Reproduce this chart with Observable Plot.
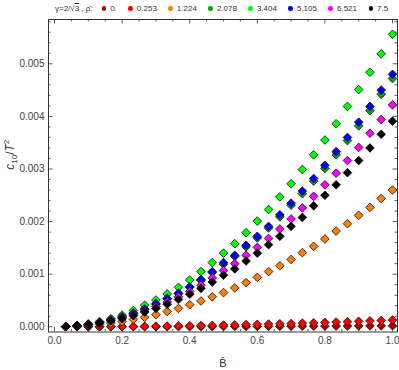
<!DOCTYPE html>
<html><head><meta charset="utf-8">
<script src="https://cdn.jsdelivr.net/npm/d3@7"></script>
<script src="https://cdn.jsdelivr.net/npm/@observablehq/plot@0.6"></script>
<style>
body{margin:0;background:#fff;font-family:"Liberation Sans",Arial,sans-serif;}
#wrap{width:399px;height:370px;overflow:hidden;}
#legend{height:17px;display:flex;align-items:center;font-size:8px;color:#333;padding-left:55px;box-sizing:border-box;white-space:nowrap;}
#legend .title{margin-right:9px;}
#legend .d{width:4.5px;height:4.5px;border-radius:50%;margin-right:4px;flex:none;}
#legend .l{margin-right:11.5px;}
.ov{text-decoration:overline;}
</style></head><body>
<div id="wrap"><div id="legend"><span class="title">γ=2/√<span class="ov">3</span> , ρ̄:</span></div><div id="chart"></div></div>
<script>
const rhoLabels = ["0.", "0.253", "1.224", "2.078", "3.404", "5.105", "6.521", "7.5"];
const colors = ["#aa0000", "#ff0000", "#ff8000", "#00aa00", "#00ff00", "#0000ff", "#ff00ff", "#000000"];
const Bbar = [0.0333, 0.0667, 0.1, 0.1333, 0.1667, 0.2, 0.2333, 0.2667, 0.3, 0.3333,
              0.3667, 0.4, 0.4333, 0.4667, 0.5, 0.5333, 0.5667, 0.6, 0.6333, 0.6667,
              0.7, 0.7333, 0.7667, 0.8, 0.8333, 0.8667, 0.9, 0.9333, 0.9667, 1.0];
const c_rho0 = [0, 0, 0, 0, 0, 0, 0.000001, 0.000001, 0.000002, 0.000002,
                0.000003, 0.000003, 0.000004, 0.000004, 0.000005, 0.000006, 0.000006, 0.000007, 0.000008, 0.000009,
                0.00001, 0.000011, 0.000012, 0.000013, 0.000014, 0.000015, 0.000016, 0.000017, 0.000019, 0.00002];
const c_rho0253 = [0.0000001, 0.0000006, 0.0000013, 0.0000023, 0.0000036, 0.000005, 0.000007, 0.000009, 0.000012, 0.000014,
                   0.000017, 0.000021, 0.000024, 0.000028, 0.000033, 0.000037, 0.000042, 0.000047, 0.000052, 0.000058,
                   0.000062, 0.00007, 0.000075, 0.000083, 0.00009, 0.000098, 0.000105, 0.000113, 0.00012, 0.00013];
const c_rho1224 = [0.000003, 0.000011, 0.000025, 0.000045, 0.00007, 0.0001, 0.00014, 0.00018, 0.00023, 0.00029,
                   0.00035, 0.00042, 0.00049, 0.00057, 0.00065, 0.00074, 0.00084, 0.00094, 0.00105, 0.00116,
                   0.00128, 0.00141, 0.00153, 0.00167, 0.00182, 0.00196, 0.00212, 0.00227, 0.00244, 0.0026];
const c_rho2078 = [0.000005, 0.00002, 0.000047, 0.000083, 0.00013, 0.000186, 0.000254, 0.000333, 0.00043, 0.00053,
                   0.00063, 0.00075, 0.00088, 0.00103, 0.00119, 0.00134, 0.00152, 0.00169, 0.00188, 0.00209,
                   0.00231, 0.00253, 0.00277, 0.00301, 0.00327, 0.00354, 0.00382, 0.00411, 0.00442, 0.00472];
const c_rho3404 = [0.000006, 0.000025, 0.000056, 0.0001, 0.000155, 0.000222, 0.00031, 0.00041, 0.00051, 0.000625,
                   0.00075, 0.00089, 0.00105, 0.00122, 0.0014, 0.00158, 0.00179, 0.00201, 0.00223, 0.00247,
                   0.00272, 0.00299, 0.00327, 0.00355, 0.00386, 0.00419, 0.00451, 0.00484, 0.00519, 0.00556];
const c_rho5105 = [0.000005, 0.000021, 0.000048, 0.000085, 0.000133, 0.00019, 0.00026, 0.00034, 0.00044, 0.00054,
                   0.00064, 0.00076, 0.0009, 0.00105, 0.00122, 0.00136, 0.00155, 0.00172, 0.00191, 0.00213,
                   0.00235, 0.00258, 0.00282, 0.00307, 0.00333, 0.0036, 0.00389, 0.00419, 0.0045, 0.0048];
const c_rho6521 = [0.000005, 0.000019, 0.000042, 0.000075, 0.00012, 0.00017, 0.00023, 0.0003, 0.00038, 0.00047,
                   0.00057, 0.00067, 0.00079, 0.00093, 0.00107, 0.0012, 0.00136, 0.00151, 0.00168, 0.00186,
                   0.00205, 0.00226, 0.00248, 0.0027, 0.00292, 0.00316, 0.00341, 0.00368, 0.00394, 0.00422];
const c_rho75 = [0.000005, 0.000018, 0.00004, 0.00007, 0.00011, 0.000155, 0.00021, 0.00028, 0.00035, 0.00043,
                 0.00052, 0.00062, 0.00073, 0.00085, 0.00098, 0.0011, 0.00125, 0.0014, 0.00156, 0.00172,
                 0.00191, 0.00208, 0.0023, 0.0025, 0.0027, 0.00293, 0.00316, 0.0034, 0.00366, 0.00391];
const xMajor = [0, 0.2, 0.4, 0.6, 0.8, 1.0];
const xMinor = [0.05, 0.1, 0.15, 0.25, 0.3, 0.35, 0.45, 0.5, 0.55, 0.65, 0.7, 0.75, 0.85, 0.9, 0.95];
const yMajor = [0, 0.001, 0.002, 0.003, 0.004, 0.005];
const yMinor = [0.0002, 0.0004, 0.0006, 0.0008, 0.0012, 0.0014, 0.0016, 0.0018, 0.0022, 0.0024, 0.0026, 0.0028,
                0.0032, 0.0034, 0.0036, 0.0038, 0.0042, 0.0044, 0.0046, 0.0048, 0.0052, 0.0054, 0.0056, 0.0058];

const series = [c_rho0, c_rho0253, c_rho1224, c_rho2078, c_rho3404, c_rho5105, c_rho6521, c_rho75];
const data = series.flatMap((vals, i) => vals.map((v, j) => ({B: Bbar[j], c: v, color: colors[i]})));

// legend
const leg = document.getElementById("legend");
rhoLabels.forEach((lab, i) => {
  const d = document.createElement("span"); d.className = "d"; d.style.background = colors[i];
  const t = document.createElement("span"); t.className = "l"; t.textContent = lab;
  leg.appendChild(d); leg.appendChild(t);
});

const W = 399, H = 353, mT = 2, mB = 38.5, mL = 48, mR = 2;
const fh = H - mT - mB, fw = W - mL - mR;
const maj = 4.5, mnr = 2.5;
const tickStyle = {stroke: "#333", strokeWidth: 0.8};

const chart = Plot.plot({
  width: W, height: H, marginTop: mT, marginBottom: mB, marginLeft: mL, marginRight: mR,
  style: {fontFamily: "Liberation Sans, Arial, sans-serif", background: "#fff"},
  x: {domain: [-0.0178, 1.0148], axis: null},
  y: {domain: [-0.0000989, 0.005842], axis: null},
  color: {type: "identity"},
  marks: [
    Plot.tickX(xMajor, {x: d => d, insetTop: fh - maj, ...tickStyle}),
    Plot.tickX(xMajor, {x: d => d, insetBottom: fh - maj, ...tickStyle}),
    Plot.tickX(xMinor, {x: d => d, insetTop: fh - mnr, ...tickStyle}),
    Plot.tickX(xMinor, {x: d => d, insetBottom: fh - mnr, ...tickStyle}),
    Plot.tickY(yMajor, {y: d => d, insetRight: fw - maj, ...tickStyle}),
    Plot.tickY(yMajor, {y: d => d, insetLeft: fw - maj, ...tickStyle}),
    Plot.tickY(yMinor, {y: d => d, insetRight: fw - mnr, ...tickStyle}),
    Plot.tickY(yMinor, {y: d => d, insetLeft: fw - mnr, ...tickStyle}),
    Plot.axisX({ticks: xMajor, tickSize: 0, tickPadding: 5, tickFormat: d3.format(".1f"), fontSize: 10, fill: "#444", label: null}),
    Plot.axisY({ticks: yMajor, tickSize: 0, tickPadding: 4, tickFormat: d3.format(".3f"), fontSize: 10, fill: "#444", label: null}),
    Plot.dot(data, {x: "B", y: "c", fill: "color", symbol: "diamond2", r: 3.9, stroke: "#111", strokeWidth: 0.8}),
    Plot.frame({stroke: "#333", strokeWidth: 1}),
    Plot.text(["c10/T2"], {frameAnchor: "left", dx: -38, dy: -6, rotate: -90, fontSize: 12, fill: "#333", className: "ylab"}),
    Plot.text(["B̄"], {frameAnchor: "bottom", dy: 35, fontSize: 11, fill: "#333"})
  ]
});
document.getElementById("chart").appendChild(chart);

// rich text for the y label: italic c with subscript 10, /T with superscript 2
const yl = d3.select(chart).select(".ylab text");
if (!yl.empty()) {
  yl.text(null);
  yl.append("tspan").attr("font-style", "italic").text("c");
  yl.append("tspan").attr("font-size", "8px").attr("dy", "3").text("10");
  yl.append("tspan").attr("dy", "-3").text("/");
  yl.append("tspan").attr("font-style", "italic").text("T");
  yl.append("tspan").attr("font-size", "8px").attr("dy", "-5").text("2");
}
</script>
</body></html>
